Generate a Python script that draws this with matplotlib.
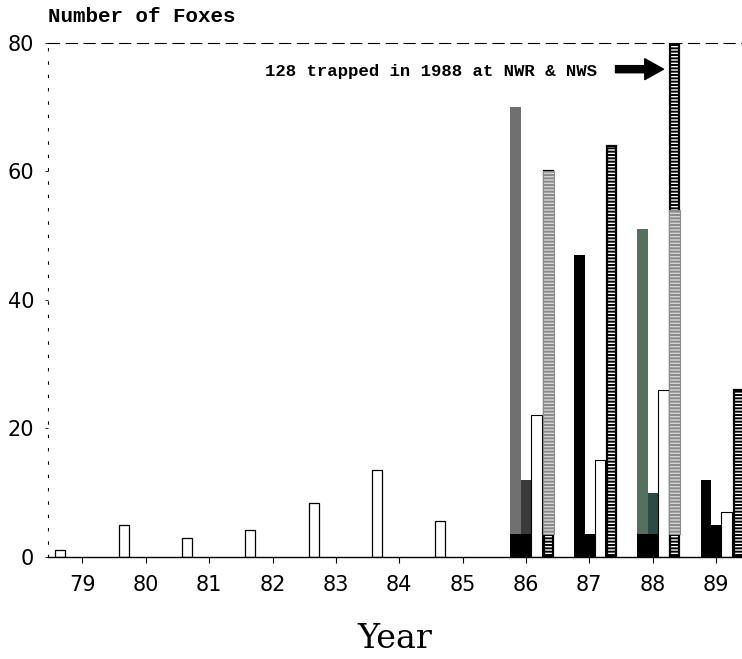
import numpy as np
import matplotlib.pyplot as plt

plt.rcParams['hatch.linewidth'] = 1.4

# early years: one white (outlined) bar per year
early_years = [79, 80, 81, 82, 83, 84, 85]
early_counts = [1, 5, 3, 4.2, 8.4, 13.5, 5.6]

# later years: four bars per year
late_years = [86, 87, 88, 89]
bar_a = [70, 47, 51, 12]
bar_a_colors = ['#707070', 'black', '#55705f', 'black']
bar_b = [12, 3.5, 10, 5]
bar_b_colors = ['#3a3a3a', 'black', '#2e4a44', 'black']
bar_c = [22, 15, 26, 7]          # white bars
bar_d = [60, 64, 128, 26]        # hatched bars (128 runs off the chart)
bar_d_gray = [60, 0, 54, 0]      # lighter grey hatched overlay
base = [3.5, 0, 3.5, 0]          # black bottom piece under grey bars

all_years = early_years + late_years

fig = plt.figure(figsize=(7.42, 6.59), dpi=100)
ax = fig.add_axes([0.065, 0.155, 0.935, 0.78])

w = 0.17
off_early, off_a, off_b, off_c, off_d = -0.35, -0.16, 0.01, 0.17, 0.35

x_early = np.array(early_years)
ax.bar(x_early + off_early, early_counts, width=0.16, color='white',
       edgecolor='black', linewidth=0.9)

x_late = np.array(late_years)
# A and B bars with black bottom piece
ax.bar(x_late + off_a, bar_a, width=w, color=bar_a_colors, linewidth=0)
ax.bar(x_late + off_b, bar_b, width=w, color=bar_b_colors, linewidth=0)
ax.bar(x_late + off_a, base, width=w, color='black', linewidth=0)
ax.bar(x_late + off_b, base, width=w, color='black', linewidth=0)
# white bars
ax.bar(x_late + off_c, bar_c, width=w, color='white', edgecolor='black',
       linewidth=0.8)
# hatched bars
ax.bar(x_late + off_d, bar_d, width=w * 0.85, color='white', edgecolor='black',
       hatch='-----', linewidth=1.6)
ax.bar(x_late + off_d, np.array(bar_d_gray) - np.array(base), bottom=base,
       width=w, color='#d6d6d6', edgecolor='#8a8a8a', hatch='-----', linewidth=0.8)

# arrow + note
ax.annotate('', xy=(88 + off_d - w / 2 - 0.05, 75.9), xytext=(87.37, 75.9),
            arrowprops=dict(arrowstyle='simple,head_length=0.9,head_width=1.0,tail_width=0.34',
                            color='black', mutation_scale=15))
ax.text(87.12, 75.6, '128 trapped in 1988 at NWR & NWS', ha='right', va='center',
        family='Liberation Mono', fontweight='bold', fontsize=12.5)

ax.set_xlim(78.46, 89.41)
ax.set_ylim(0, 80)
ax.set_xticks(all_years)
ax.set_xticklabels([str(y) for y in all_years], fontsize=15)
ax.set_yticks([0, 20, 40, 60, 80])
ax.set_yticklabels(['0', '20', '40', '60', '80'], fontsize=15)
ax.tick_params(axis='x', length=4, width=0.8, pad=9)
ax.tick_params(axis='y', length=2, width=0.6, pad=8)

ax.spines['right'].set_visible(False)
ax.spines['top'].set_linestyle((0, (10, 6)))
ax.spines['top'].set_linewidth(0.8)
ax.spines['left'].set_linestyle((0, (2, 10)))
ax.spines['left'].set_linewidth(0.8)
ax.spines['bottom'].set_linewidth(1.0)

ax.set_xlabel('Year', fontsize=24, family='DejaVu Serif', labelpad=20)
fig.text(0.065, 0.975, 'Number of Foxes', ha='left', va='center',
         family='Liberation Mono', fontweight='bold', fontsize=15)

fig.savefig('out.png', dpi=100)
